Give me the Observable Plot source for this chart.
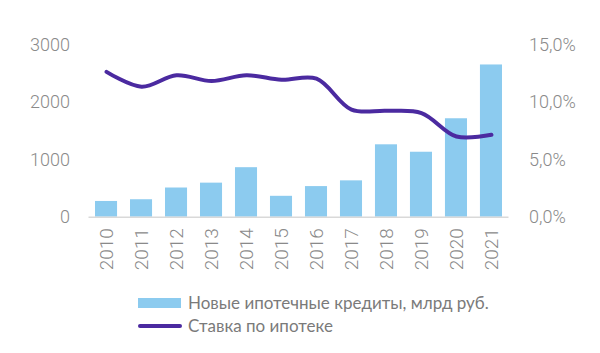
<!DOCTYPE html>
<html>
<head>
<meta charset="utf-8">
<script src="https://cdn.jsdelivr.net/npm/d3@7"></script>
<script src="https://cdn.jsdelivr.net/npm/@observablehq/plot@0.6"></script>
<style>
  html, body { margin: 0; padding: 0; background: #fff; }
  #wrap { position: relative; width: 600px; height: 353px; font-family: "Open Sans", sans-serif; }
  .leg { position: absolute; left: 138px; display: flex; align-items: center; color: #7a7a7a; font-family: Lato, "Open Sans", sans-serif; font-size: 17px; white-space: nowrap; }
  .sw-bar { width: 43px; height: 10px; background: #8ccbef; margin-right: 7px; }
  .sw-line { width: 44px; height: 4px; background: #4b2aa0; border-radius: 2px; margin-right: 6px; }
</style>
</head>
<body>
<div id="wrap">
  <div id="chart"></div>
  <div class="leg" style="top:292px"><div class="sw-bar"></div><span>Новые ипотечные кредиты, млрд руб.</span></div>
  <div class="leg" style="top:315px"><div class="sw-line"></div><span>Ставка по ипотеке</span></div>
</div>
<script>
const years = ["2010","2011","2012","2013","2014","2015","2016","2017","2018","2019","2020","2021"];
const loans = [275, 305, 510, 595, 865, 365, 535, 635, 1265, 1135, 1720, 2660];
const rates = [12.7, 11.4, 12.4, 11.9, 12.4, 12.0, 12.1, 9.4, 9.3, 9.1, 7.05, 7.2];
const leftTicks = [0, 1000, 2000, 3000];
const rightTicks = [0, 5, 10, 15];

const RATE_K = 200; // 15% maps onto 3000 of the left scale
const barData = years.map((y, i) => ({year: y, value: loans[i]}));
const lineData = years.map((y, i) => ({year: y, rate: rates[i] * RATE_K}));

const grey = "#8a8a8a";
const chart = Plot.plot({
  width: 600,
  height: 285,
  marginLeft: 88.5,
  marginRight: 91.5,
  marginTop: 45,
  marginBottom: 68.3,
  style: {fontFamily: "Roboto, 'Open Sans', sans-serif", fontSize: "18px", color: grey, background: "transparent", fontWeight: 300},
  x: {domain: years, paddingInner: 0.37, paddingOuter: 0.186, round: false, label: null},
  y: {domain: [0, 3000], label: null},
  marks: [
    Plot.barY(barData, {x: "year", y: "value", fill: "#8ccbef"}),
    Plot.ruleY([0], {stroke: "#d9d9d9", strokeWidth: 1.5}),
    Plot.line(lineData, {x: "year", y: "rate", stroke: "#4b2aa0", strokeWidth: 4, curve: "catmull-rom"}),
    Plot.axisY(leftTicks, {anchor: "left", tickSize: 0, tickPadding: 19, label: null, fill: grey, tickFormat: d => String(d)}),
    Plot.axisY(rightTicks.map(d => d * RATE_K), {anchor: "right", tickSize: 0, tickPadding: 20, label: null, fill: grey,
      tickFormat: d => (d / RATE_K).toFixed(1).replace(".", ",") + "%"}),
    Plot.axisX({tickSize: 0, tickPadding: 11, tickRotate: -90, label: null, fill: grey, fontSize: 19})
  ]
});
document.getElementById("chart").appendChild(chart);
</script>
</body>
</html>
